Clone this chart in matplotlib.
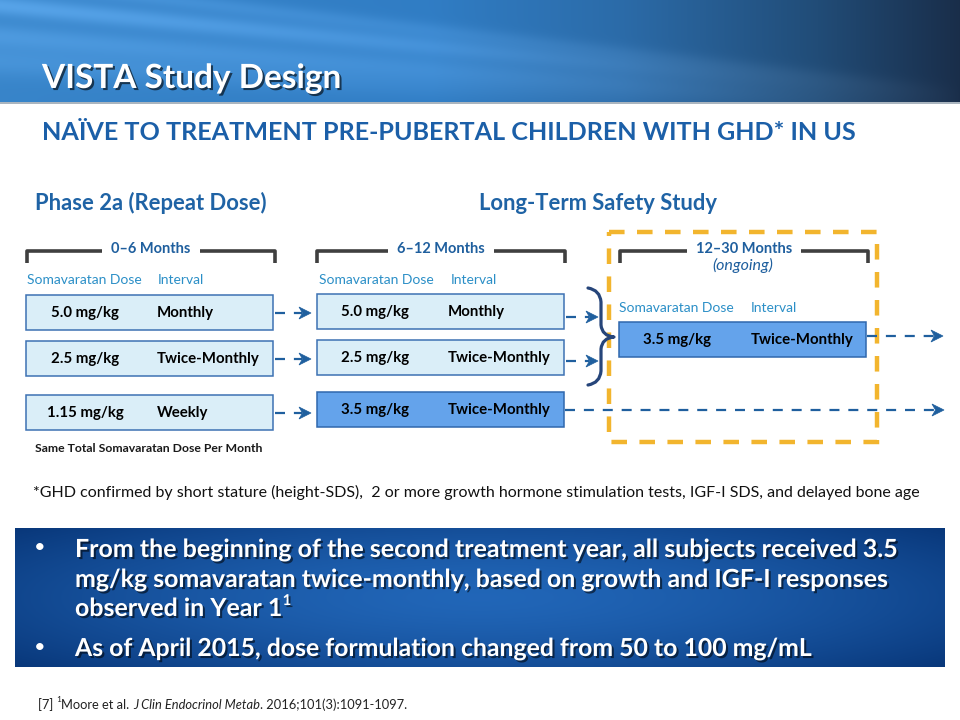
import numpy as np
import matplotlib
matplotlib.use("Agg")
import matplotlib.pyplot as plt
from matplotlib.patches import Rectangle, Polygon, PathPatch
from matplotlib.path import Path
import matplotlib.patheffects as pe

plt.rcParams['font.family'] = ['Lato', 'DejaVu Sans']

# ---------------- content ----------------
title = "VISTA Study Design"
subtitle = "NAÏVE TO TREATMENT PRE-PUBERTAL CHILDREN WITH GHD* IN US"
study_names = ["Phase 2a (Repeat Dose)", "Long-Term Safety Study"]
periods = ["0–6 Months", "6–12 Months", "12–30 Months"]
period_note = "(ongoing)"
col_headers = ["Somavaratan Dose", "Interval"]
doses_p1 = ["5.0 mg/kg", "2.5 mg/kg", "1.15 mg/kg"]
intervals_p1 = ["Monthly", "Twice-Monthly", "Weekly"]
doses_p2 = ["5.0 mg/kg", "2.5 mg/kg", "3.5 mg/kg"]
intervals_p2 = ["Monthly", "Twice-Monthly", "Twice-Monthly"]
doses_p3 = ["3.5 mg/kg"]
intervals_p3 = ["Twice-Monthly"]
same_dose_note = "Same Total Somavaratan Dose Per Month"
footnote = ("*GHD confirmed by short stature (height-SDS),  2 or more growth hormone "
            "stimulation tests, IGF-I SDS, and delayed bone age")
bullet1_lines = ["From the beginning of the second treatment year, all subjects received 3.5",
                 "mg/kg somavaratan twice-monthly, based on growth and IGF-I responses",
                 "observed in Year 1"]
bullet1_sup = "1"
bullet2_line = "As of April 2015, dose formulation changed from 50 to 100 mg/mL"
reference = [("[7] ", "normal", False), ("1", "normal", True), ("Moore et al. ", "normal", False),
             ("J Clin Endocrinol Metab", "italic", False),
             (". 2016;101(3):1091-1097.", "normal", False)]

# ---------------- figure ----------------
W, H = 960, 720
fig = plt.figure(figsize=(9.6, 7.2), dpi=100)
ax = fig.add_axes([0, 0, 1, 1])
ax.set_xlim(0, W)
ax.set_ylim(H, 0)
ax.axis('off')
fig.canvas.draw()
renderer = fig.canvas.get_renderer()

def text_width(t):
    return t.get_window_extent(renderer).width

def fit_text(x, y, s, width, size0=12, **kw):
    t = ax.text(x, y, s, fontsize=size0, **kw)
    w = text_width(t)
    t.set_fontsize(size0 * width / w)
    return t

# header gradient
hh = 102
xs = np.linspace(0, 1, W)
ys = np.linspace(0, 1, hh)
X, Y = np.meshgrid(xs, ys)
stops = np.array([0.0, 0.45, 0.65, 0.85, 1.0])
cols = np.array([[0.22, 0.52, 0.79], [0.19, 0.49, 0.77], [0.17, 0.42, 0.66],
                 [0.13, 0.30, 0.47], [0.10, 0.18, 0.29]])
img = np.zeros((hh, W, 3))
for c in range(3):
    img[:, :, c] = np.interp(X, stops, cols[:, c])
for off, slope, amp, wid in [(0.05, 0.9, 0.12, 0.10), (0.35, 0.7, 0.08, 0.12),
                             (-0.2, 1.1, 0.07, 0.08), (0.6, 0.5, 0.06, 0.15)]:
    band = amp * np.exp(-((Y - (off + slope * X)) / wid) ** 2) * (1 - X) ** 0.7
    img += band[:, :, None]
img = np.clip(img, 0, 1)
ax.imshow(img, extent=(0, W, hh, 0), aspect='auto', zorder=0)
ax.plot([0, W], [hh + 1, hh + 1], color='#9aa7b3', lw=1.2, zorder=1)

t = fit_text(42, 88, title, 298, color='white', fontweight='bold', va='baseline', zorder=3)
t.set_path_effects([pe.withSimplePatchShadow(offset=(1.5, -1.5), shadow_rgbFace='black', alpha=0.6)])

fit_text(42, 140, subtitle, 813, color='#1b5fa8', fontweight='bold', va='baseline')

# study names
ax.text(35, 210, study_names[0], fontsize=15.8, color='#1f63a5', fontweight='bold', va='baseline')
ax.text(479, 210, study_names[1], fontsize=15.8, color='#1f63a5', fontweight='bold', va='baseline')

# brackets
def bracket(x0, x1, y, label):
    xc = (x0 + x1) / 2
    tl = ax.text(xc, 253, label, fontsize=10.5, color='#1f5f9e', fontweight='bold',
                 ha='center', va='baseline')
    gap = text_width(tl) / 2 + 9
    kw = dict(color='#3f3f3f', lw=2.6, solid_capstyle='butt', solid_joinstyle='round', zorder=2)
    ax.plot([x0, x0, xc - gap], [y + 12, y, y], **kw)
    ax.plot([xc + gap, x1, x1], [y, y, y + 12], **kw)

bracket(27, 275, 250.5, periods[0])
bracket(317, 565, 251, periods[1])
bracket(620, 868, 251, periods[2])
ax.text(743, 270, period_note, fontsize=11.5, color='#1f5f9e', style='italic',
        ha='center', va='baseline')

# orange dashed frame
ax.add_patch(Rectangle((609, 232), 268, 210, fill=False, ec='#f2b52e', lw=3.2,
                       ls=(0, (3.5, 2.8)), zorder=1))

# column headers
hdr_kw = dict(fontsize=10, color='#2b8fc7', va='baseline')
for (xd, xi, yb) in [(27, 158, 284), (319, 451, 284), (619, 751, 312)]:
    ax.text(xd, yb, col_headers[0], **hdr_kw)
    ax.text(xi, yb, col_headers[1], **hdr_kw)

# boxes
light_fc, light_ec = '#daeef8', '#3d72b3'
dark_fc, dark_ec = '#64a3eb', '#2f67ad'

def dose_box(x0, x1, top, dose, interval, dose_cx, int_x, dark=False):
    fc, ec = (dark_fc, dark_ec) if dark else (light_fc, light_ec)
    ax.add_patch(Rectangle((x0, top), x1 - x0, 35, fc=fc, ec=ec, lw=1.1, zorder=2))
    yc = top + 18
    ax.text(dose_cx, yc, dose, fontsize=10.8, fontweight='bold', color='black',
            ha='center', va='center', zorder=3)
    ax.text(int_x, yc, interval, fontsize=10.8, fontweight='bold', color='black',
            ha='left', va='center', zorder=3)

p1_tops = [295, 341, 395]
for i, (d, iv) in enumerate(zip(doses_p1, intervals_p1)):
    dose_box(26, 273, p1_tops[i], d, iv, 85, 157)
p2_tops = [294, 340, 392]
for i, (d, iv) in enumerate(zip(doses_p2, intervals_p2)):
    dose_box(317, 564, p2_tops[i], d, iv, 375, 448, dark=(i == 2))
for d, iv in zip(doses_p3, intervals_p3):
    dose_box(619, 866, 322, d, iv, 677, 751, dark=True)

# dashed arrows
arrow_col = '#1f5f9e'

def dashed_arrow(x0, x1, y):
    ax.plot([x0, x1 - 9], [y, y], color=arrow_col, lw=1.6, ls=(0, (4.5, 4)), zorder=2)
    head = [(x1, y), (x1 - 12, y - 6), (x1 - 8.5, y), (x1 - 12, y + 6)]
    ax.add_patch(Polygon(head, closed=True, fc=arrow_col, ec=arrow_col, lw=0.5, zorder=3))

for top in p1_tops:
    dashed_arrow(275, 311, top + 18)
dashed_arrow(566, 598, 317)
dashed_arrow(566, 598, 361)
dashed_arrow(867, 943, 336)
dashed_arrow(565, 944, 410)

# curly brace
bx, tip_x, y0, ym, y1 = 588, 614, 288, 337, 385
verts = [(bx, y0), (bx + 12, y0 + 2), (bx + 13, y0 + 14),
         (bx + 13, ym - 12),
         (bx + 14, ym - 1), (tip_x, ym),
         (bx + 14, ym + 1), (bx + 13, ym + 12),
         (bx + 13, y1 - 14),
         (bx + 12, y1 - 2), (bx, y1)]
codes = [Path.MOVETO, Path.CURVE3, Path.CURVE3,
         Path.LINETO,
         Path.CURVE3, Path.CURVE3,
         Path.CURVE3, Path.CURVE3,
         Path.LINETO,
         Path.CURVE3, Path.CURVE3]
ax.add_patch(PathPatch(Path(verts, codes), fill=False, ec='#26457a', lw=2.3,
                       capstyle='round', joinstyle='round', zorder=3))

ax.text(35, 452, same_dose_note, fontsize=8.8, fontweight='bold', color='#1a1a1a', va='baseline')

fit_text(33, 497, footnote, 882, color='#111111', va='baseline')

# bottom blue box with gradient
bx0, bx1, by0, by1 = 15, 945, 528, 667
gx = np.linspace(-1, 1, 400)
gy = np.linspace(-1, 1, 140)
GX, GY = np.meshgrid(gx, gy)
r = np.clip(np.sqrt((GX * 0.9) ** 2 + (GY * 0.75) ** 2), 0, 1.2) / 1.2
inner = np.array([0.13, 0.40, 0.72])
outer = np.array([0.03, 0.21, 0.47])
gimg = inner[None, None, :] * (1 - r[:, :, None] ** 1.5) + outer[None, None, :] * (r[:, :, None] ** 1.5)
ax.imshow(gimg, extent=(bx0, bx1, by1, by0), aspect='auto', zorder=1)

shadow = [pe.withSimplePatchShadow(offset=(1.5, -1.5), shadow_rgbFace='black', alpha=0.55)]
bullet_kw = dict(color='white', fontweight='bold', va='baseline', zorder=3)
line_targets = [(75, 557, 818), (75, 587, 809)]
fs_ref = None
for (x, y, w), s in zip(line_targets, bullet1_lines[:2]):
    t = fit_text(x, y, s, w, **bullet_kw)
    t.set_path_effects(shadow)
    fs_ref = t.get_fontsize() if fs_ref is None else (fs_ref + t.get_fontsize()) / 2
t3 = ax.text(75, 616, bullet1_lines[2], fontsize=fs_ref, **bullet_kw)
t3.set_path_effects(shadow)
w3 = text_width(t3)
ts = ax.text(75 + w3 + 1, 605, bullet1_sup, fontsize=fs_ref * 0.6, **bullet_kw)
ts.set_path_effects(shadow)
t4 = fit_text(75, 656, bullet2_line, 733, **bullet_kw)
t4.set_path_effects(shadow)
for yb in [548, 648]:
    ax.text(40, yb, "•", fontsize=fs_ref * 0.8, color='white', ha='center', va='center', zorder=3)

# reference line
x = 38
for s, style, sup in reference:
    t = ax.text(x, 702 if sup else 709, s, fontsize=6 if sup else 9.3, style=style,
                color='#222222', va='baseline')
    x += text_width(t)

fig.savefig("out.png", dpi=100)
